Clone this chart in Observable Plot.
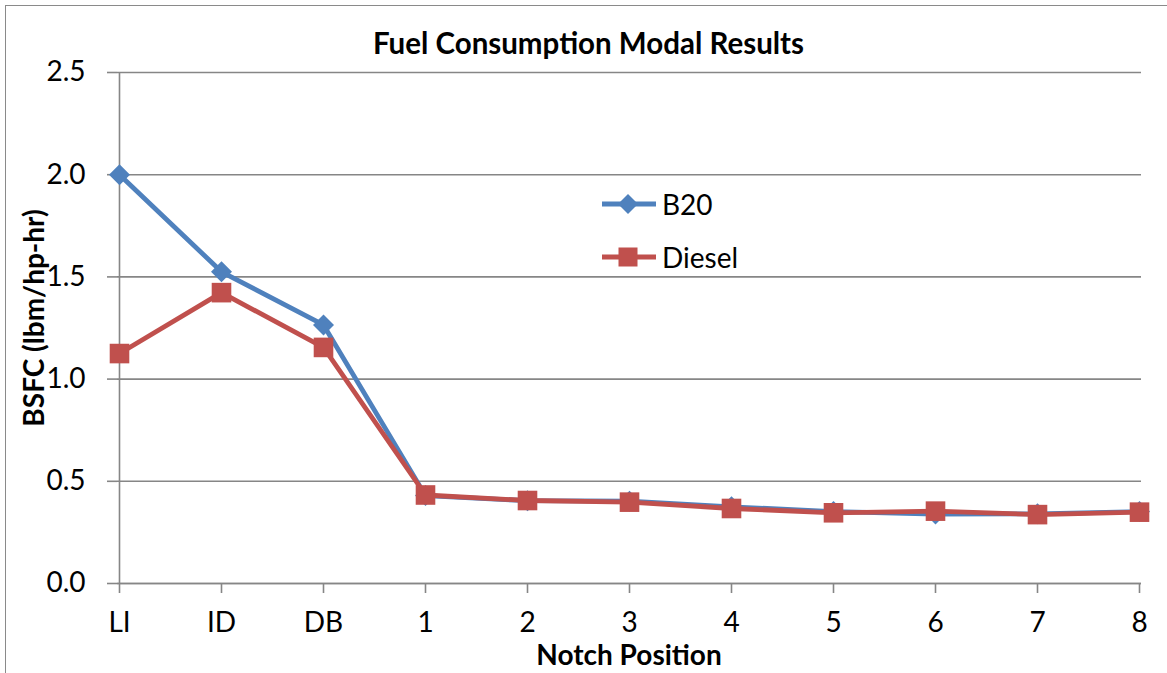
<!DOCTYPE html>
<html>
<head>
<meta charset="utf-8">
<script src="https://cdn.jsdelivr.net/npm/d3@7"></script>
<script src="https://cdn.jsdelivr.net/npm/@observablehq/plot@0.6"></script>
<style>
  html, body { margin: 0; padding: 0; background: #fff; }
  #wrap { position: relative; width: 1167px; height: 673px; overflow: hidden; font-family: Lato, "Open Sans", sans-serif; color: #000; }
  #border { position: absolute; left: 5px; top: 5px; width: 1200px; height: 700px; border-left: 1.5px solid #8a8a8a; border-top: 1.5px solid #8a8a8a; box-sizing: border-box; }
  .lbl { position: absolute; font-weight: bold; white-space: nowrap; line-height: 1; }
  #title { left: 0; width: 1177px; text-align: center; top: 28px; font-size: 29.5px; }
  #xlabel { left: 0; width: 1258px; text-align: center; top: 640px; font-size: 28px; }
  #ylabel { left: 33px; top: 318px; font-size: 28px; transform: translate(-50%, -50%) rotate(-90deg); }
  #legend { position: absolute; left: 600px; top: 177px; font-size: 28px; }
  .item { display: flex; align-items: center; height: 53px; }
  .item svg { margin-right: 4px; }
  #chart svg { position: absolute; left: 0; top: 0; }
</style>
</head>
<body>
<div id="wrap">
  <div id="chart"></div>
  <div id="border"></div>
  <div id="title" class="lbl">Fuel Consumption Modal Results</div>
  <div id="xlabel" class="lbl">Notch Position</div>
  <div id="ylabel" class="lbl">BSFC (lbm/hp-hr)</div>
  <div id="legend"></div>
</div>
<script>
const categories = ["LI", "ID", "DB", "1", "2", "3", "4", "5", "6", "7", "8"];
const b20 = [2.0, 1.525, 1.265, 0.43, 0.405, 0.403, 0.375, 0.352, 0.340, 0.341, 0.352];
const diesel = [1.125, 1.423, 1.155, 0.433, 0.406, 0.398, 0.367, 0.346, 0.354, 0.337, 0.349];
const yTicks = [0, 0.5, 1.0, 1.5, 2.0, 2.5];
const seriesNames = ["B20", "Diesel"];
const seriesColors = ["#4F81BD", "#C0504D"];

const b20Data = categories.map((c, i) => ({cat: c, v: b20[i]}));
const dieselData = categories.map((c, i) => ({cat: c, v: diesel[i]}));

const diamond = {draw(ctx, size) { const r = Math.sqrt(size / Math.PI); ctx.moveTo(0, -r); ctx.lineTo(r, 0); ctx.lineTo(0, r); ctx.lineTo(-r, 0); ctx.closePath(); }};
const square = {draw(ctx, size) { const r = Math.sqrt(size / Math.PI); ctx.rect(-r, -r, 2 * r, 2 * r); }};

const gridColor = "#868686";

const chart = Plot.plot({
  width: 1167,
  height: 673,
  marginLeft: 117,
  marginRight: 26,
  marginTop: 72,
  marginBottom: 90,
  style: {fontFamily: "Lato, 'Open Sans', sans-serif", color: "#000", background: "transparent"},
  x: {type: "point", domain: categories, padding: 0},
  y: {domain: [0, 2.5]},
  marks: [
    Plot.gridY(yTicks, {stroke: gridColor, strokeOpacity: 1, strokeWidth: 1.6}),
    Plot.ruleX([categories[0]], {stroke: gridColor, strokeWidth: 1.6}),
    Plot.ruleY([0], {stroke: gridColor, strokeWidth: 1.6}),
    Plot.axisY(yTicks, {tickSize: 10, tickPadding: 22, tickFormat: d3.format(".1f"), fontSize: 28, stroke: gridColor, strokeWidth: 1.6, label: null}),
    Plot.axisX({tickSize: 10, tickPadding: 19, fontSize: 28, stroke: gridColor, strokeWidth: 1.6, label: null}),
    Plot.line(b20Data, {x: "cat", y: "v", stroke: seriesColors[0], strokeWidth: 4.8}),
    Plot.dot(b20Data, {x: "cat", y: "v", symbol: diamond, r: 10.5, fill: seriesColors[0], stroke: "none"}),
    Plot.line(dieselData, {x: "cat", y: "v", stroke: seriesColors[1], strokeWidth: 4.8}),
    Plot.dot(dieselData, {x: "cat", y: "v", symbol: square, r: 9.8, fill: seriesColors[1], stroke: "none"})
  ]
});
document.getElementById("chart").appendChild(chart);

// legend
const legend = document.getElementById("legend");
seriesNames.forEach((name, i) => {
  const item = document.createElement("div");
  item.className = "item";
  const marker = i === 0
    ? `<path d="M28,-10 L38,0 L28,10 L18,0 Z" fill="${seriesColors[i]}"/>`
    : `<rect x="18.5" y="-9.5" width="19" height="19" fill="${seriesColors[i]}"/>`;
  item.innerHTML = `<svg width="58" height="24" viewBox="0 -12 58 24"><line x1="2" x2="56" y1="0" y2="0" stroke="${seriesColors[i]}" stroke-width="4.8"/>${marker}</svg><span>${name}</span>`;
  legend.appendChild(item);
});
</script>
</body>
</html>
